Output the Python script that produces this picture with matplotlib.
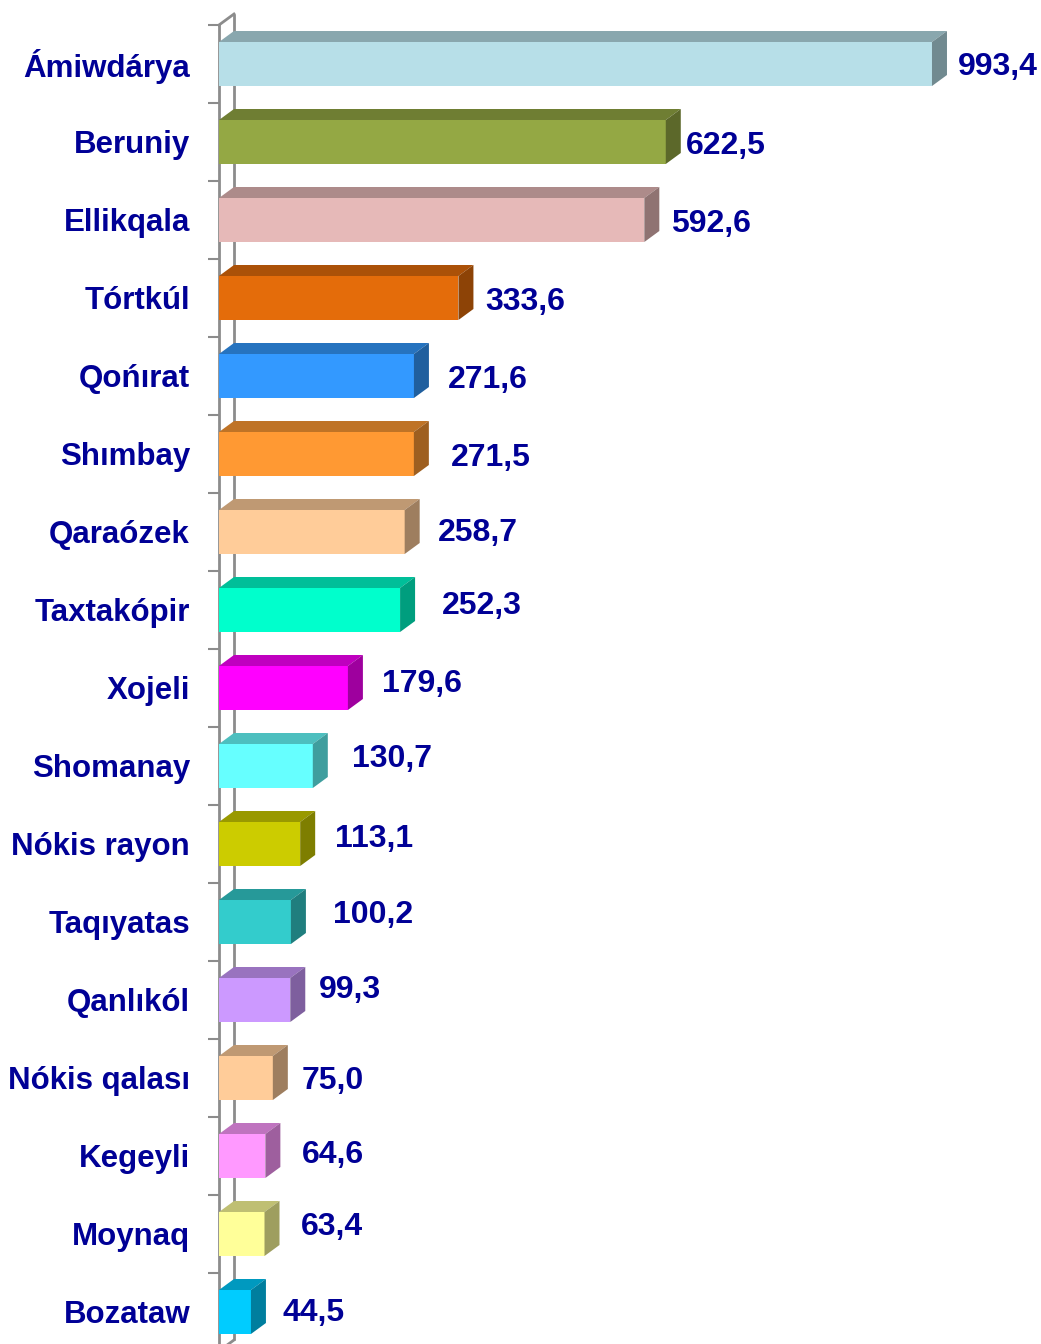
import matplotlib
matplotlib.use("Agg")
import matplotlib.pyplot as plt
from matplotlib.patches import Polygon
from matplotlib.colors import to_rgb

# Districts and values
districts = ["Ámiwdárya", "Beruniy", "Ellikqala", "Tórtkúl", "Qońırat", "Shımbay",
             "Qaraózek", "Taxtakópir", "Xojeli", "Shomanay", "Nókis rayon", "Taqıyatas",
             "Qanlıkól", "Nókis qalası", "Kegeyli", "Moynaq", "Bozataw"]
values = [993.4, 622.5, 592.6, 333.6, 271.6, 271.5, 258.7, 252.3, 179.6, 130.7,
          113.1, 100.2, 99.3, 75.0, 64.6, 63.4, 44.5]
value_labels = ["993,4", "622,5", "592,6", "333,6", "271,6", "271,5", "258,7", "252,3",
                "179,6", "130,7", "113,1", "100,2", "99,3", "75,0", "64,6", "63,4", "44,5"]
front_colors = ["#B7DFE8", "#94A844", "#E6B9B8", "#E46C0A", "#3399FF", "#FF9933",
                "#FFCC99", "#00FFCC", "#FF00FF", "#66FFFF", "#CCCC00", "#33CCCC",
                "#CC99FF", "#FFCC99", "#FF99FF", "#FFFF99", "#00CCFF"]

# Label nudges in pixels (gap right of the bar, vertical shift downwards)
label_dx = [11, 5, 12, 12, 19, 22, 18, 27, 19, 24, 20, 27, 14, 14, 22, 21, 17]
label_dy = [0, 1, 1, 1, 1, 1, -2, -7, -7, -10, -8, -10, -13, 0, -4, -10, -2]

W, H, DPI = 1041, 1344, 100
fig = plt.figure(figsize=(W / DPI, H / DPI), dpi=DPI)

ax_left_px, ax_top_px, band_px = 219, 25, 78
n = len(districts)
ax_w_px = W - ax_left_px
ax_h_px = n * band_px
ax = fig.add_axes([ax_left_px / W, 1 - (ax_top_px + ax_h_px) / H,
                   ax_w_px / W, ax_h_px / H])

xmax = 1145.3
ax.set_xlim(0, xmax)
ax.set_ylim(n - 0.5, -0.5)
ux = xmax / ax_w_px          # data units per pixel (x)
uy = 1.0 / band_px           # data units per pixel (y)

depth_x, depth_y = 15 * ux, 11 * uy
bar_h = 44 * uy
navy = "#000096"
grey = "#8C8C8C"
text_shift = 3 * uy

# back wall line and its diagonals
ax.plot([depth_x, depth_x], [-0.5 - depth_y, n - 0.5 - depth_y], color=grey, lw=2,
        zorder=1, clip_on=False, solid_capstyle="butt")
ax.plot([0, depth_x], [-0.5, -0.5 - depth_y], color=grey, lw=2, zorder=1, clip_on=False)
ax.plot([0, depth_x], [n - 0.5, n - 0.5 - depth_y], color=grey, lw=2, zorder=1, clip_on=False)


def shade(c, f):
    r, g, b = to_rgb(c)
    return (r * f, g * f, b * f)


for i, (v, c) in enumerate(zip(values, front_colors)):
    y0 = i - bar_h / 2
    y1 = i + bar_h / 2
    ax.barh(i, v, height=bar_h, color=c, edgecolor="none", zorder=3)
    top = Polygon([(0, y0), (depth_x, y0 - depth_y), (v + depth_x, y0 - depth_y), (v, y0)],
                  closed=True, facecolor=shade(c, 0.75), edgecolor="none", zorder=3,
                  clip_on=False)
    side = Polygon([(v, y0), (v + depth_x, y0 - depth_y), (v + depth_x, y1 - depth_y), (v, y1)],
                   closed=True, facecolor=shade(c, 0.62), edgecolor="none", zorder=3,
                   clip_on=False)
    ax.add_patch(top)
    ax.add_patch(side)
    ax.text(v + depth_x + label_dx[i] * ux, i + label_dy[i] * uy + text_shift, value_labels[i],
            ha="left", va="center", fontsize=23, fontweight="bold", color=navy,
            family="Liberation Sans", zorder=5, clip_on=False)
    ax.text(-29 * ux, i + text_shift, districts[i], ha="right", va="center", fontsize=22.5,
            fontweight="bold", color=navy, family="Liberation Sans", clip_on=False)

# front axis with boundary ticks
for s in ["top", "right", "bottom"]:
    ax.spines[s].set_visible(False)
ax.spines["left"].set_color(grey)
ax.spines["left"].set_linewidth(2)
ax.spines["left"].set_zorder(2)
ax.set_xticks([])
ax.set_yticks([k - 0.5 for k in range(n + 1)])
ax.set_yticklabels([])
ax.tick_params(axis="y", length=8, width=1.5, color=grey, direction="out")
ax.patch.set_alpha(0)

fig.savefig("out.png", dpi=DPI, facecolor="white")
